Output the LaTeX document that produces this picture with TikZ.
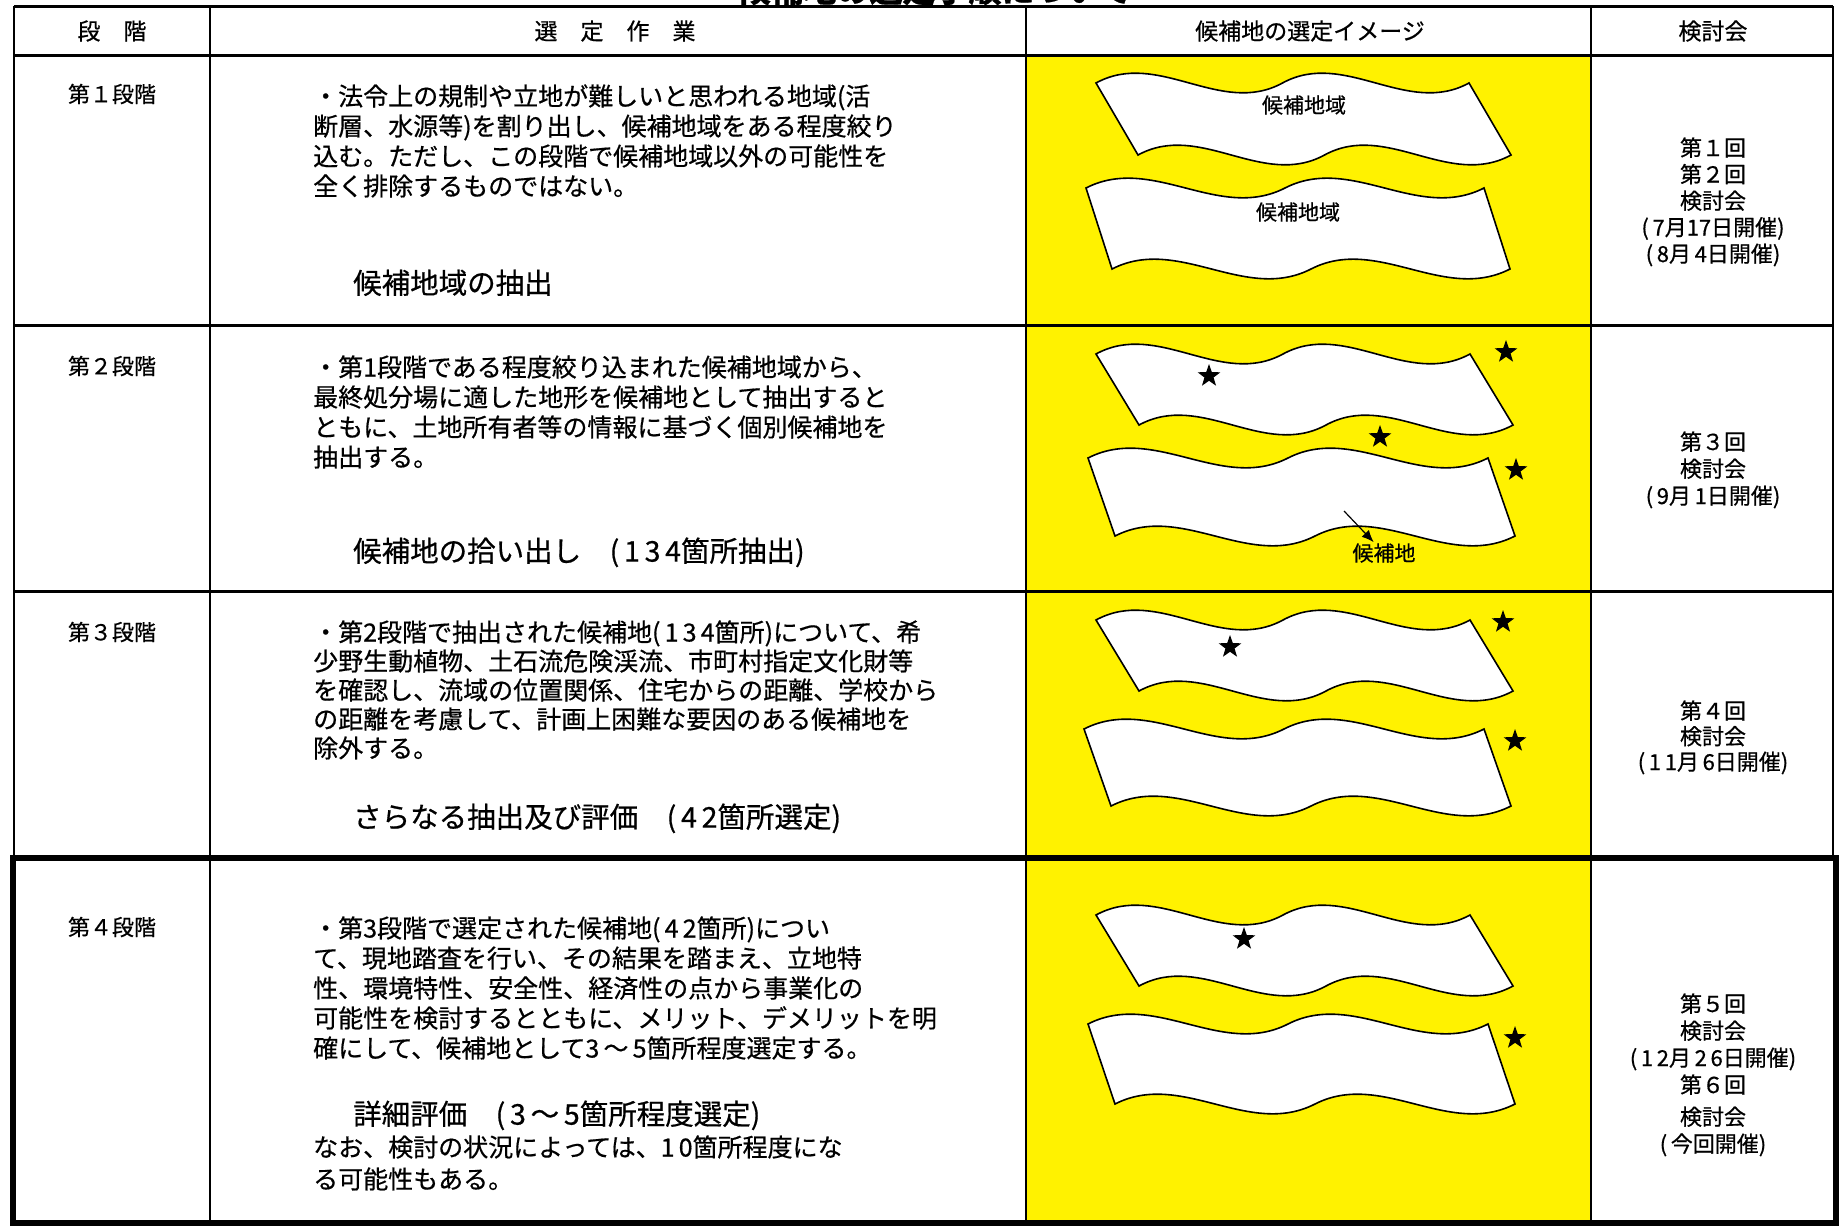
\documentclass[tikz,border=0pt]{standalone}
\usepackage{fontspec}
\setmainfont{Noto Sans CJK JP}[FakeBold=0.6]
\usetikzlibrary{shapes.geometric,arrows.meta}

\tikzset{
  head/.style={font=\fontsize{23}{27}\selectfont, inner sep=0pt, anchor=base},
  stage/.style={font=\fontsize{22}{26}\selectfont, inner sep=0pt, anchor=base},
  body/.style={font=\fontsize{25}{30}\selectfont, align=left, inner sep=0pt, anchor=base west},
  lead/.style={font=\fontsize{28.5}{32}\selectfont, inner sep=0pt, anchor=base west},
  meeting/.style={font=\fontsize{22}{27}\selectfont, align=center, inner sep=0pt, anchor=base},
  tag/.style={font=\fontsize{21}{25}\selectfont, inner sep=1pt},
  starmark/.style={star, star points=5, star point ratio=2.5, fill=black, draw=none,
    minimum size=24pt, inner sep=0pt},
  banner/.style={draw=black, line width=1.6pt, fill=white},
  hrule/.style={line width=3pt},
  vrule/.style={line width=2pt},
  lastrow/.style={line width=6pt}
}

% wavy band: x, y, width, shift of lower edge
\newcommand{\wavebanner}[5]{%
  \begin{scope}[shift={(#1,#2)}]
    \pgfmathsetmacro{\bw}{#3}
    \draw[banner] (0,0)
      .. controls (\bw/6,-34) and (\bw/3,34) .. (\bw/2,0)
      .. controls (2*\bw/3,-34) and (5*\bw/6,34) .. (\bw,0)
      -- (\bw+#4,#5)
      .. controls (5*\bw/6+#4,#5+34) and (2*\bw/3+#4,#5-34) .. (\bw/2+#4,#5)
      .. controls (\bw/3+#4,#5+34) and (\bw/6+#4,#5-34) .. (#4,#5)
      -- cycle;
  \end{scope}}

\begin{document}
\begin{tikzpicture}[x=1pt,y=-1pt]
  \useasboundingbox (0,0) rectangle (1839,1226);
  \clip (0,0) rectangle (1839,1226);

  % title, cut off at the top
  \node[font=\fontsize{33}{33}\selectfont\bfseries, inner sep=0pt, anchor=base] (title) at (935,2) {候補地の選定手順について};

  % image column
  \fill[yellow] (1026,55) rectangle (1591,1226);

  % bands
  \wavebanner{1096}{83}{373}{42}{72}
  \wavebanner{1086}{188}{398}{26}{81}
  \wavebanner{1096}{354}{374}{43}{71}
  \wavebanner{1088}{458}{400}{27}{78}
  \wavebanner{1096}{620}{374}{43}{71}
  \wavebanner{1084}{729}{400}{27}{77}
  \wavebanner{1096}{915}{374}{43}{71}
  \wavebanner{1088}{1024}{400}{27}{80}

  \node[tag] (area1) at (1304,105) {候補地域};
  \node[tag] (area2) at (1298,212) {候補地域};

  % candidate sites
  \node[starmark] (s1) at (1209,376) {};
  \node[starmark] (s2) at (1506,352) {};
  \node[starmark] (s3) at (1380,437) {};
  \node[starmark] (s4) at (1516,470) {};
  \node[starmark] (s5) at (1230,647) {};
  \node[starmark] (s6) at (1503,622) {};
  \node[starmark] (s7) at (1515,741) {};
  \node[starmark] (s8) at (1244,939) {};
  \node[starmark] (s9) at (1515,1038) {};

  \coordinate (pick) at (1344,511);
  \node[tag] (site) at (1384,553) {候補地};
  \draw[line width=1.2pt, -{Latex[length=12pt,width=10pt]}] (pick) -- (site);

  % header
  \node[head] (h1) at (112,39.7) {段　階};
  \node[head] (h2) at (615,39.7) {選　定　作　業};
  \node[head] (h3) at (1310,39.7) {候補地の選定イメージ};
  \node[head] (h4) at (1713,39.7) {検討会};

  % stages
  \node[stage] (st1) at (112,102.4) {第１段階};
  \node[stage] (st2) at (112,374.4) {第２段階};
  \node[stage] (st3) at (112,640.4) {第３段階};
  \node[stage] (st4) at (112,935.4) {第４段階};

  % work (base = last line)
  \node[body] (w1) at (313,195.5) {・法令上の規制や立地が難しいと思われる地域(活\\
    断層、水源等)を割り出し、候補地域をある程度絞り\\
    込む。ただし、この段階で候補地域以外の可能性を\\
    全く排除するものではない。};
  \node[lead] (l1) at (353,293.6) {候補地域の抽出};

  \node[body] (w2) at (313,466.5) {・第1段階である程度絞り込まれた候補地域から、\\
    最終処分場に適した地形を候補地として抽出すると\\
    ともに、土地所有者等の情報に基づく個別候補地を\\
    抽出する。};
  \node[lead] (l2) at (353,561.6) {候補地の拾い出し\hspace{1em}(\,1\,3\,4箇所抽出)};

  \node[body, font=\fontsize{25}{29}\selectfont] (w3) at (313,757.5) {・第2段階で抽出された候補地(\,1\,3\,4箇所)について、希\\
    少野生動植物、土石流危険渓流、市町村指定文化財等\\
    を確認し、流域の位置関係、住宅からの距離、学校から\\
    の距離を考慮して、計画上困難な要因のある候補地を\\
    除外する。};
  \node[lead] (l3) at (353,827.6) {さらなる抽出及び評価\hspace{1em}(\,4\,2箇所選定)};

  \node[body] (w4) at (313,1057.5) {・第3段階で選定された候補地(\,4\,2箇所)につい\\
    て、現地踏査を行い、その結果を踏まえ、立地特\\
    性、環境特性、安全性、経済性の点から事業化の\\
    可能性を検討するとともに、メリット、デメリットを明\\
    確にして、候補地として3\,～\,5箇所程度選定する。};
  \node[lead] (l4) at (353,1124.6) {詳細評価\hspace{1em}(\,3\,～\,5箇所程度選定)};
  \node[body, font=\fontsize{25}{32}\selectfont] (w5) at (313,1188.5) {なお、検討の状況によっては、1\,0箇所程度にな\\
    る可能性もある。};

  % meetings (base = last line)
  \node[meeting, font=\fontsize{22}{26.5}\selectfont] (m1) at (1713,262) {第１回\\第２回\\検討会\\(\,7月17日開催)\\(\,8月\,4日開催)};
  \node[meeting] (m2) at (1713,504) {第３回\\検討会\\(\,9月\,1日開催)};
  \node[meeting, font=\fontsize{22}{25.5}\selectfont] (m3) at (1713,770) {第４回\\検討会\\(\,1\,1月\,6日開催)};
  \node[meeting] (m4) at (1713,1152) {第５回\\検討会\\(\,1\,2月\,2\,6日開催)\\第６回\\[5pt]検討会\\(\,今回開催)};

  % table lines
  \draw[hrule] (14,6) -- (1833,6);
  \draw[hrule] (14,55) -- (1833,55);
  \draw[hrule] (14,325) -- (1833,325);
  \draw[hrule] (14,591) -- (1833,591);
  \draw[vrule] (14,6) -- (14,858);
  \draw[vrule] (210,6) -- (210,1226);
  \draw[vrule] (1026,6) -- (1026,1226);
  \draw[vrule] (1591,6) -- (1591,1226);
  \draw[vrule] (1833,6) -- (1833,858);
  % current stage
  \draw[lastrow] (13,858) rectangle (1836,1223);
\end{tikzpicture}
\end{document}
